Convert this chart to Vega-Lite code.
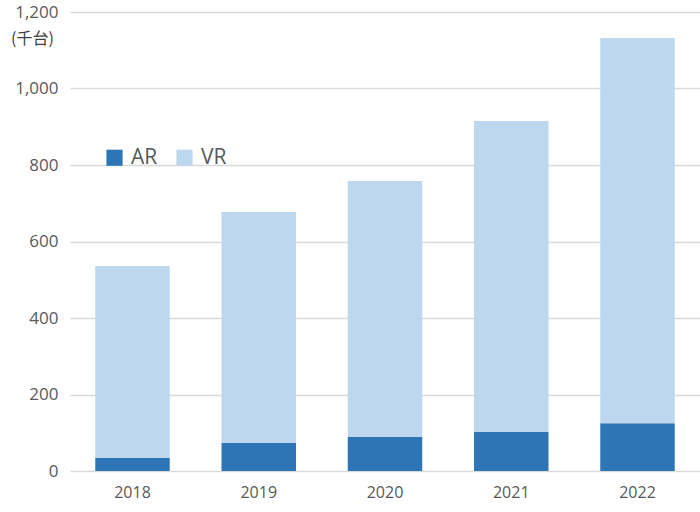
{
  "$schema": "https://vega.github.io/schema/vega-lite/v6.json",
  "width": 630,
  "height": 459,
  "autosize": "none",
  "padding": {"left": 70, "top": 12, "right": 0, "bottom": 41},
  "background": "white",
  "config": {
    "view": {"stroke": null},
    "font": "Open Sans"
  },
  "data": {
    "values": [
      {"year": "2018", "type": "AR", "units": 34},
      {"year": "2018", "type": "VR", "units": 502},
      {"year": "2019", "type": "AR", "units": 73},
      {"year": "2019", "type": "VR", "units": 604},
      {"year": "2020", "type": "AR", "units": 89},
      {"year": "2020", "type": "VR", "units": 669},
      {"year": "2021", "type": "AR", "units": 102},
      {"year": "2021", "type": "VR", "units": 813},
      {"year": "2022", "type": "AR", "units": 125},
      {"year": "2022", "type": "VR", "units": 1007}
    ]
  },
  "mark": {"type": "bar"},
  "encoding": {
    "x": {
      "field": "year",
      "type": "ordinal",
      "scale": {"paddingInner": 0.41, "paddingOuter": 0.2},
      "axis": {
        "title": null,
        "labelAngle": 0,
        "domain": false,
        "ticks": false,
        "labelPadding": 13,
        "labelFontSize": 16,
        "labelColor": "#595959"
      }
    },
    "y": {
      "field": "units",
      "type": "quantitative",
      "stack": "zero",
      "scale": {"domain": [0, 1200]},
      "axis": {
        "values": [0, 200, 400, 600, 800, 1000, 1200],
        "format": ",d",
        "domain": false,
        "ticks": false,
        "labelPadding": 12,
        "labelFontSize": 17,
        "labelColor": "#595959",
        "gridColor": "#d9d9d9",
        "gridWidth": 1.3,
        "title": "(千台)",
        "titleFont": "Noto Sans CJK JP",
        "titleFontWeight": "normal",
        "titleFontSize": 16,
        "titleColor": "#404040",
        "titleAngle": 0,
        "titleAlign": "center",
        "titleBaseline": "middle",
        "titleX": -38,
        "titleY": 26
      }
    },
    "order": {"field": "type", "sort": "ascending"},
    "color": {
      "field": "type",
      "type": "nominal",
      "scale": {"domain": ["AR", "VR"], "range": ["#2e75b6", "#bdd7ee"]},
      "legend": {
        "title": null,
        "orient": "none",
        "direction": "horizontal",
        "legendX": 34,
        "legendY": 135,
        "symbolType": "square",
        "symbolSize": 260,
        "symbolStrokeWidth": 0,
        "labelFontSize": 21,
        "labelColor": "#595959",
        "columnPadding": 16,
        "labelOffset": 6
      }
    }
  }
}
